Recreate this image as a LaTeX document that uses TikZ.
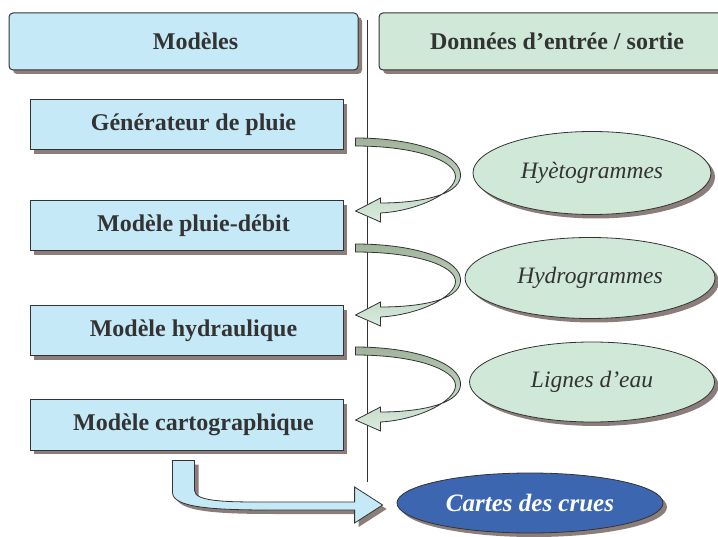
\documentclass[tikz,border=0pt]{standalone}
\usepackage{fontspec}
\setmainfont{Liberation Serif}
\usepackage{tikz}
\usetikzlibrary{positioning,calc,shapes.geometric,shadows}

\definecolor{modblue}{HTML}{C6E9F8}
\definecolor{datgreen}{HTML}{CFE8D8}
\definecolor{ribdark}{HTML}{A0B39A}
\definecolor{shadowc}{HTML}{8B7D79}
\definecolor{crueblue}{HTML}{3D66B1}
\definecolor{txt}{HTML}{333333}

\tikzset{
    sh/.style={drop shadow={shadow xshift=4pt,shadow yshift=-4pt,fill=shadowc,opacity=1}},
    head/.style={draw=txt,line width=1pt,rounded corners=4pt,minimum height=57pt,sh,text=txt,font=\fontsize{24}{26}\selectfont\bfseries},
    model/.style={draw=txt,line width=1pt,fill=modblue,minimum width=313pt,minimum height=50pt,sh,text=txt,
        font=\fontsize{24}{26}\selectfont\bfseries,execute at begin node={\hspace*{14pt}}},
    data/.style={ellipse,draw=txt,line width=0.8pt,fill=datgreen,inner sep=0pt,sh,text=txt,font=\fontsize{23.5}{26}\selectfont\itshape},
    ribbon/.style={draw=txt,line width=0.8pt,top color=ribdark,bottom color=datgreen!80!white},
    bigarrow/.style={draw=txt,line width=0.8pt,fill=modblue,sh}
}

\newcommand{\ribbon}[4]{
    \coordinate (s) at ($(#1.east)+(12,#3)$);
    \coordinate (t) at ($(#2.east)+(12,#4)$);
    \coordinate (m) at ($(s)!0.5!(t)+(105,2)$);
    \path[ribbon] (s) .. controls ($(s)+(60,0)$) and ($(m)+(2,-22)$) .. (m)
        .. controls ($(m)+(-2,20)$) and ($(t)+(60,-8)$) .. ($(t)+(25,-8)$)
        -- ($(t)+(25,-13)$) -- (t) -- ($(t)+(25,11)$) -- ($(t)+(25,2)$)
        .. controls ($(t)+(62,0)$) and ($(m)+(-5,16)$) .. ($(m)+(-5,0)$)
        .. controls ($(m)+(-5,-16)$) and ($(s)+(60,8)$) .. ($(s)+(0,8)$) -- cycle;
}

\begin{document}
\begin{tikzpicture}[x=1pt,y=-1pt]

    \useasboundingbox (0,0) rectangle (718,537);

    \draw[txt,line width=0.8pt] (367,20) -- (367,482);

    \node[head,fill=modblue,minimum width=349pt,execute at begin node={\hspace*{24pt}}] (modeles) at (183.5,41.5) {Modèles};
    \node[head,fill=datgreen,minimum width=356pt,right=20pt of modeles] (donnees) {Données d’entrée / sortie};

    \node[model] (gen) at (186.5,125) {Générateur de pluie};
    \node[model,below=50pt of gen] (pluie) {Modèle pluie-débit};
    \node[model,below=54pt of pluie] (hydrau) {Modèle hydraulique};
    \node[model,below=43pt of hydrau] (carto) {Modèle cartographique};

    \node[data,minimum width=238pt,minimum height=83pt] (hyeto) at (592,173) {Hyètogrammes};
    \node[data,minimum width=250pt,minimum height=81pt] (hydro) at (590,278) {Hydrogrammes};
    \node[data,minimum width=245pt,minimum height=80pt] (lignes) at (592,382) {Lignes d’eau};
    \node[data,fill=crueblue,text=white,minimum width=266pt,minimum height=60pt,
        font=\fontsize{25}{28}\selectfont\bfseries\itshape] (crues) at (530,503) {Cartes des crues};

    \ribbon{gen}{pluie}{13}{-15}
    \ribbon{pluie}{hydrau}{18}{-16}
    \ribbon{hydrau}{carto}{16}{-5}

    \coordinate (b0) at ($(carto.south)+(-14,10)$);
    \coordinate (b1) at ($(crues.west)+(-14,2)$);
    \path[bigarrow] (b0) -- ($(b0)+(22,0)$) -- ($(b0)+(22,30)$)
        .. controls ($(b0)+(22,42)$) and ($(b1)+(-150,-3)$) .. ($(b1)+(-113,-3)$)
        -- ($(b1)+(-28,-3)$) -- ($(b1)+(-28,-18)$) -- (b1) -- ($(b1)+(-28,18)$) -- ($(b1)+(-28,5)$)
        -- ($(b1)+(-113,5)$) .. controls ($(b1)+(-170,5)$) and ($(b0)+(0,47)$) .. ($(b0)+(0,32)$) -- cycle;

\end{tikzpicture}
\end{document}
